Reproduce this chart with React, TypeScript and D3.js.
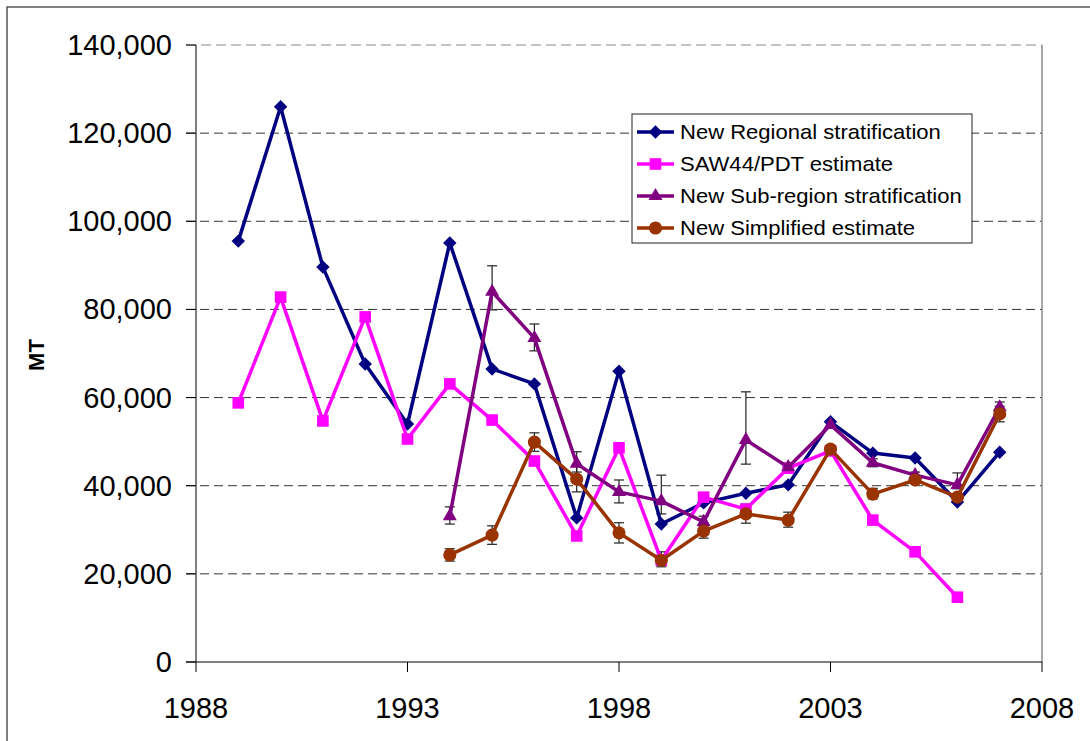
import React from "react";
import * as d3 from "d3";

const yearsA = [1989, 1990, 1991, 1992, 1993, 1994, 1995, 1996, 1997, 1998, 1999, 2000, 2001, 2002, 2003, 2004, 2005, 2006, 2007];
const regional = [95500, 126000, 89600, 67600, 54000, 95100, 66500, 63100, 32700, 66000, 31300, 36100, 38300, 40200, 54500, 47400, 46300, 36300, 47600];

const yearsSaw = [1989, 1990, 1991, 1992, 1993, 1994, 1995, 1996, 1997, 1998, 1999, 2000, 2001, 2002, 2003, 2004, 2005, 2006];
const saw = [58800, 82800, 54700, 78300, 50600, 63100, 54900, 45600, 28600, 48600, 23100, 37400, 34700, 44000, 47900, 32200, 25000, 14700];

const yearsB = [1994, 1995, 1996, 1997, 1998, 1999, 2000, 2001, 2002, 2003, 2004, 2005, 2006, 2007];
const subRegion = [33100, 84000, 73500, 45000, 38600, 36500, 31800, 50400, 44200, 53800, 45200, 42400, 40200, 57800];
const subLo = [31300, 79900, 70600, 43100, 36100, 33600, 30700, 44900, 43300, 53000, 44300, 41600, 39300, 56300];
const subHi = [35200, 89900, 76700, 47700, 41300, 42400, 33100, 61300, 45100, 54600, 46100, 43100, 42900, 59000];

const simplified = [24300, 28800, 49900, 41500, 29300, 23100, 29700, 33600, 32200, 48300, 38100, 41300, 37400, 56300];
const simpLo = [22900, 26700, 47800, 38600, 27000, 21600, 28100, 31500, 30600, 47500, 37000, 40500, 36600, 54500];
const simpHi = [25700, 30900, 52000, 44500, 31600, 25000, 31200, 35800, 34000, 49100, 39400, 42100, 38200, 58000];

const yTicks = [0, 20000, 40000, 60000, 80000, 100000, 120000, 140000];
const xTicks = [1988, 1993, 1998, 2003, 2008];

const seriesNames = ["New Regional stratification", "SAW44/PDT estimate", "New Sub-region stratification", "New Simplified estimate"];
const seriesColors = ["#000080", "#FF00FF", "#800080", "#993300"];
const seriesShapes = ["diamond", "square", "triangle", "circle"];

const FONT = "'Liberation Sans', Arial, sans-serif";

function symbolPath(shape: string): string {
  if (shape === "diamond") return d3.symbol(d3.symbolSquare, 90)() as string;
  if (shape === "square") return d3.symbol(d3.symbolSquare, 135)() as string;
  if (shape === "triangle") return d3.symbol(d3.symbolTriangle, 85)() as string;
  return d3.symbol(d3.symbolCircle, 135)() as string;
}

export default function App() {
  const left = 196, right = 1042, top = 45, bottom = 662;
  const x = d3.scaleLinear().domain([1988, 2008]).range([left, right]);
  const y = d3.scaleLinear().domain([0, 140000]).range([bottom, top]);
  const fmt = d3.format(",");

  const series = [
    { xs: yearsA, vs: regional },
    { xs: yearsSaw, vs: saw },
    { xs: yearsB, vs: subRegion, lo: subLo, hi: subHi },
    { xs: yearsB, vs: simplified, lo: simpLo, hi: simpHi },
  ];

  const line = d3
    .line<[number, number]>()
    .x((d) => x(d[0]))
    .y((d) => y(d[1]));

  const capW = 5;

  return (
    <svg
      width={1090}
      height={741}
      style={{ position: "absolute", left: 0, top: 0, display: "block", background: "#fff" }}
      fontFamily={FONT}
    >
      <rect x={0} y={0} width={1090} height={741} fill="#fff" />
      {/* outer chart border */}
      <rect x={7} y={7} width={1100} height={760} fill="none" stroke="#555" strokeWidth={1.5} />

      {/* gridlines */}
      {yTicks.filter((t) => t > 0).map((t) => (
        <line
          key={"g" + t}
          x1={left - 10}
          x2={right}
          y1={y(t)}
          y2={y(t)}
          stroke={t === 140000 ? "#888" : "#333"}
          strokeWidth={1}
          strokeDasharray={t === 140000 ? "10,5" : "9,5"}
        />
      ))}
      {/* right border */}
      <line x1={right} x2={right} y1={top} y2={bottom} stroke="#888" strokeWidth={1.5} />

      {/* axes */}
      <line x1={left} x2={left} y1={top} y2={bottom} stroke="#000" strokeWidth={1} />
      <line x1={left - 10} x2={right} y1={bottom} y2={bottom} stroke="#000" strokeWidth={1.2} />
      {yTicks.map((t) => (
        <g key={"yt" + t}>
          <line x1={left - 10} x2={left} y1={y(t)} y2={y(t)} stroke="#000" />
          <text x={172} y={y(t) + 10} textAnchor="end" fontSize={29} fill="#000">
            {fmt(t)}
          </text>
        </g>
      ))}
      {xTicks.map((t) => (
        <g key={"xt" + t}>
          <line x1={x(t)} x2={x(t)} y1={bottom} y2={bottom + 10} stroke="#000" />
          <text x={x(t)} y={718} textAnchor="middle" fontSize={29} fill="#000">
            {t}
          </text>
        </g>
      ))}
      <text
        transform={`translate(44,355) rotate(-90)`}
        textAnchor="middle"
        fontSize={22}
        fontWeight="bold"
        fill="#000"
      >
        MT
      </text>

      {/* error bars */}
      {series.map((s, si) =>
        s.lo
          ? s.xs.map((yr, i) => (
              <g key={"eb" + si + "-" + i} stroke="#222" strokeWidth={1.2}>
                <line x1={x(yr)} x2={x(yr)} y1={y(s.lo![i])} y2={y(s.hi![i])} />
                <line x1={x(yr) - capW} x2={x(yr) + capW} y1={y(s.lo![i])} y2={y(s.lo![i])} />
                <line x1={x(yr) - capW} x2={x(yr) + capW} y1={y(s.hi![i])} y2={y(s.hi![i])} />
              </g>
            ))
          : null
      )}

      {/* lines and markers */}
      {series.map((s, si) => {
        const pts: [number, number][] = s.xs.map((yr, i) => [yr, s.vs[i]]);
        const p = symbolPath(seriesShapes[si]);
        return (
          <g key={"s" + si}>
            <path d={line(pts) as string} fill="none" stroke={seriesColors[si]} strokeWidth={3.5} strokeLinejoin="round" />
            {pts.map((d, i) => (
              <path
                key={i}
                d={p}
                transform={`translate(${x(d[0])},${y(d[1])})${seriesShapes[si] === "diamond" ? " rotate(45)" : ""}`}
                fill={seriesColors[si]}
              />
            ))}
          </g>
        );
      })}

      {/* legend */}
      <rect x={632} y={114} width={340} height={129} fill="#fff" stroke="#222" strokeWidth={1} />
      {seriesNames.map((n, i) => {
        const cy = 132 + i * 32;
        const p = symbolPath(seriesShapes[i]);
        return (
          <g key={"lg" + i}>
            <line x1={637} x2={674} y1={cy} y2={cy} stroke={seriesColors[i]} strokeWidth={3.5} />
            <path
              d={p}
              transform={`translate(655.5,${cy})${seriesShapes[i] === "diamond" ? " rotate(45)" : ""}`}
              fill={seriesColors[i]}
            />
            <text transform={`translate(680,${cy + 7}) scale(1.05,1)`} fontSize={21} fill="#000">
              {n}
            </text>
          </g>
        );
      })}
    </svg>
  );
}
